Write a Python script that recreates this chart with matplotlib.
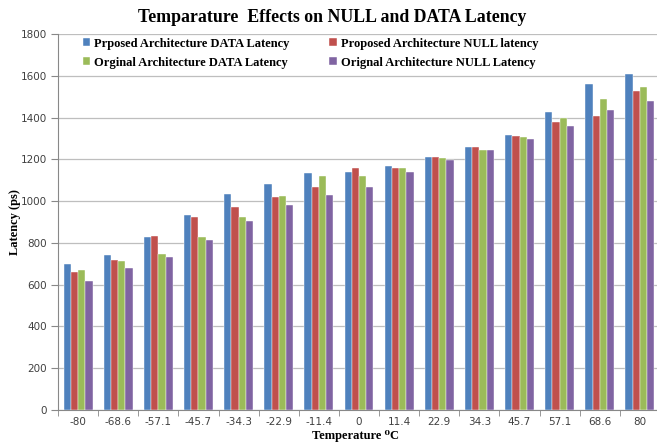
import numpy as np
import matplotlib
matplotlib.use("Agg")
import matplotlib.pyplot as plt

temps = ["-80", "-68.6", "-57.1", "-45.7", "-34.3", "-22.9", "-11.4", "0",
         "11.4", "22.9", "34.3", "45.7", "57.1", "68.6", "80"]
prop_data = [698, 741, 829, 934, 1032, 1081, 1134, 1140, 1166, 1209, 1258, 1317, 1428, 1560, 1608]
prop_null = [661, 720, 834, 923, 973, 1020, 1067, 1158, 1158, 1209, 1258, 1314, 1378, 1407, 1527]
orig_data = [669, 711, 749, 826, 926, 1024, 1118, 1118, 1158, 1206, 1247, 1309, 1397, 1488, 1547]
orig_null = [619, 679, 731, 816, 904, 981, 1027, 1067, 1137, 1198, 1247, 1298, 1359, 1437, 1479]

series = [
    ("Prposed Architecture DATA Latency", prop_data, "#4F81BD"),
    ("Proposed Architecture NULL latency", prop_null, "#C0504D"),
    ("Orginal Architecture DATA Latency", orig_data, "#9BBB59"),
    ("Orignal Architecture NULL Latency", orig_null, "#8064A2"),
]

SERIF = "Liberation Serif"
fig = plt.figure(figsize=(6.57, 4.43), dpi=100)
ax = fig.add_axes([58 / 657, 33 / 443, 602 / 657, 376 / 443])

x = np.arange(len(temps))
w = 0.18
bars = []
for i, (label, vals, col) in enumerate(series):
    bars.append(ax.bar(x + (i - 1.5) * w, vals, w, color=col, label=label, zorder=3,
                       edgecolor="white", linewidth=0.3))

ax.set_xlim(-0.5, len(temps) - 0.5)
ax.set_ylim(0, 1800)
ax.set_yticks(np.arange(0, 1801, 200))
ax.set_xticks(x)
ax.set_xticklabels(temps)
ax.set_xticks(np.arange(-0.5, len(temps), 1), minor=True)
ax.tick_params(axis="x", which="major", length=0, pad=5)
ax.tick_params(axis="x", which="minor", length=4, color="#888888")
ax.tick_params(axis="y", length=5, color="#888888", pad=3)
ax.tick_params(labelsize=7.5, labelcolor="#404040")
ax.grid(axis="y", color="#BEBEBE", linewidth=0.9, zorder=0)
for s in ["top", "right"]:
    ax.spines[s].set_visible(False)
for s in ["left", "bottom"]:
    ax.spines[s].set_color("#888888")

fig.text(0.506, 0.961, "Temparature  Effects on NULL and DATA Latency", ha="center", va="center",
         family=SERIF, fontweight="bold", fontsize=12.8)
fig.text(15 / 657, 1 - 222 / 443, "Latency (ps)", rotation=90, ha="center", va="center",
         family=SERIF, fontweight="bold", fontsize=9)
fig.text(355 / 657, 0.002, "Temperature \u2070C", ha="center", va="bottom",
         family=[SERIF, "DejaVu Serif"], fontweight="bold", fontsize=9)

# legend is filled row by row in the reference
order = [0, 2, 1, 3]
leg = ax.legend([bars[i] for i in order], [series[i][0] for i in order],
                ncol=2, loc="upper left", bbox_to_anchor=(0.035, 1.0), frameon=False,
                prop={"family": SERIF, "weight": "bold", "size": 9},
                handlelength=0.6, handleheight=0.6, handletextpad=0.3,
                columnspacing=3.2, labelspacing=0.55, borderaxespad=0.0, borderpad=0.3)

fig.savefig("out.png", dpi=100)
